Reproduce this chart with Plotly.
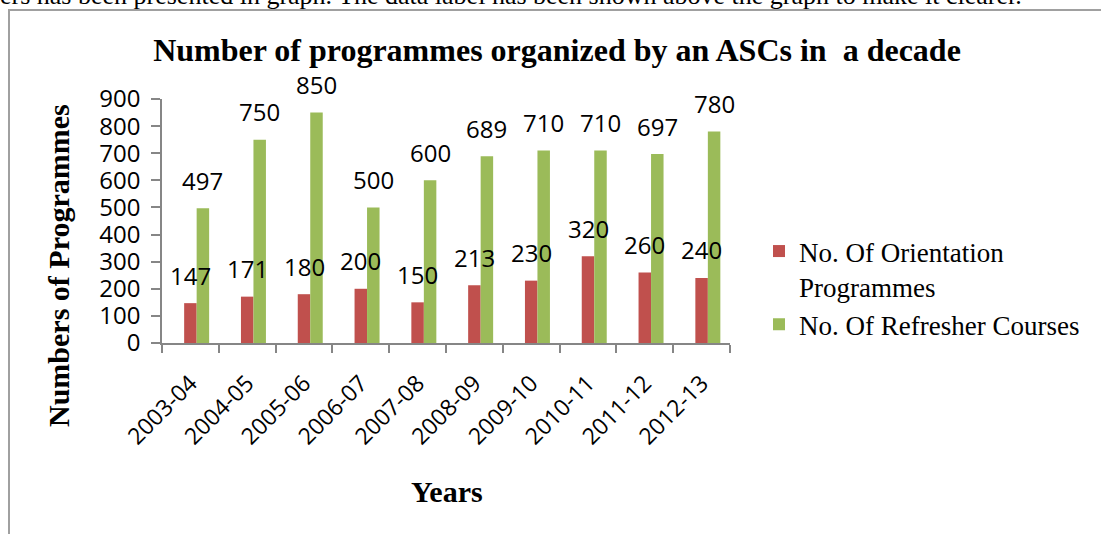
import plotly.graph_objects as go

years = ["2003-04", "2004-05", "2005-06", "2006-07", "2007-08",
         "2008-09", "2009-10", "2010-11", "2011-12", "2012-13"]
orientation = [147, 171, 180, 200, 150, 213, 230, 320, 260, 240]
refresher = [497, 750, 850, 500, 600, 689, 710, 710, 697, 780]

name_orient = "No. Of Orientation<br>Programmes"
name_refresh = "No. Of Refresher Courses"
title_text = "Number of programmes organized by an ASCs in  a decade"
ytitle_text = "Numbers of Programmes"
xtitle_text = "Years"
top_text = "ers has been presented in graph. The data label has been shown above the graph to make it clearer."

RED = "#C0504D"
GREEN = "#9BBB59"
AXIS = "#868686"
W, H = 1101, 534
L, R, T, B = 162, 730, 99, 343


def px_x(p):
    return (p - L) / (R - L)


def px_y(p):
    return (B - p) / (B - T)


BW = 0.22
fig = go.Figure()
fig.add_trace(go.Bar(x=years, y=orientation, name=name_orient,
                     marker=dict(color=RED, line=dict(width=0)),
                     width=BW, offset=-BW / 2))
fig.add_trace(go.Bar(x=years, y=refresher, name=name_refresh,
                     marker=dict(color=GREEN, line=dict(width=0)),
                     width=BW, offset=BW / 2))

label_font = dict(family="Open Sans", size=24, color="#000000")
annotations = []
for i, v in enumerate(orientation):
    annotations.append(dict(x=i, y=v, xref="x", yref="y", text=str(v),
                            showarrow=False, font=label_font,
                            xanchor="center", yanchor="middle", yshift=28))
for i, v in enumerate(refresher):
    annotations.append(dict(x=i + BW, y=v, xref="x", yref="y", text=str(v),
                            showarrow=False, font=label_font,
                            xanchor="center", yanchor="middle", yshift=28))

annotations.append(dict(x=px_x(58), y=px_y(266), xref="paper", yref="paper",
                        text="<b>" + ytitle_text + "</b>", textangle=-90,
                        showarrow=False,
                        font=dict(family="Liberation Serif", size=30, color="#000000"),
                        xanchor="center", yanchor="middle"))
annotations.append(dict(x=px_x(447), y=px_y(491), xref="paper", yref="paper",
                        text="<b>" + xtitle_text + "</b>",
                        showarrow=False,
                        font=dict(family="Liberation Serif", size=30, color="#000000"),
                        xanchor="center", yanchor="middle"))
annotations.append(dict(x=px_x(-2), y=px_y(-5), xref="paper", yref="paper",
                        text=top_text, showarrow=False,
                        font=dict(family="Liberation Serif", size=26, color="#000000"),
                        xanchor="left", yanchor="middle"))

shapes = [
    dict(type="line", xref="paper", yref="paper",
         x0=px_x(9), x1=px_x(9), y0=px_y(10), y1=px_y(545),
         line=dict(color="#A0A0A0", width=2)),
    dict(type="line", xref="paper", yref="paper",
         x0=px_x(8), x1=px_x(1110), y0=px_y(10), y1=px_y(10),
         line=dict(color="#A0A0A0", width=2)),
]

fig.update_layout(
    width=W, height=H,
    margin=dict(l=L, r=W - R, t=T, b=H - B, pad=0),
    paper_bgcolor="white", plot_bgcolor="white",
    barmode="overlay",
    showlegend=True,
    title=dict(text="<b>" + title_text + "</b>", x=557 / W, xanchor="center",
               y=1 - 50 / H, yanchor="middle", xref="container", yref="container",
               font=dict(family="Liberation Serif", size=32, color="#000000")),
    legend=dict(x=px_x(759), y=px_y(227), xanchor="left", yanchor="top",
                font=dict(family="Liberation Serif", size=27, color="#000000"),
                valign="top", bgcolor="rgba(0,0,0,0)", tracegroupgap=4,
                traceorder="normal"),
    annotations=annotations,
    shapes=shapes,
)
fig.update_xaxes(type="category", range=[-0.5, len(years) - 0.5],
                 showline=True, linecolor=AXIS, linewidth=1.5,
                 ticks="outside", tickson="boundaries", ticklen=8,
                 tickcolor=AXIS, tickwidth=1.5, tickangle=-45,
                 tickfont=dict(family="Open Sans", size=23, color="#000000"),
                 ticklabelstandoff=16,
                 showgrid=False, zeroline=False)
fig.update_yaxes(range=[0, 900], dtick=100, tick0=0,
                 showline=True, linecolor=AXIS, linewidth=1.5,
                 ticks="outside", ticklen=9, tickcolor=AXIS, tickwidth=1.5,
                 tickfont=dict(family="Open Sans", size=24, color="#000000"),
                 showgrid=False, zeroline=False, ticklabelstandoff=6)

fig.write_html("out.html", config={"displayModeBar": False},
               post_script="document.body.style.margin='0';document.body.style.padding='0';")
